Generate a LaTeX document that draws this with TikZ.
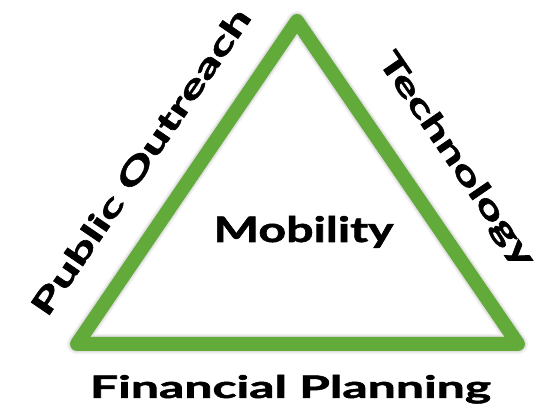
\documentclass[tikz,border=0pt]{standalone}
\usepackage{fontspec}
\setmainfont{Lato}[BoldFeatures={FakeBold=1.5}]
\definecolor{trigreen}{RGB}{98,170,57}
\begin{document}
\begin{tikzpicture}[x=1pt,y=-1pt,
  side/.style={draw=trigreen,line width=14pt,line join=round},
  shadowline/.style={draw=black,line join=round},
  lbl/.style={font=\fontsize{31}{31}\selectfont\bfseries,inner sep=0pt,anchor=base}]
\useasboundingbox (0,0) rectangle (541,419);
\fill[white] (0,0) rectangle (541,419);
\coordinate (A) at (297,21);
\coordinate (L) at (77,344);
\coordinate (R) at (518,344);
\begin{scope}[shift={(2,4)}]
  \draw[shadowline,opacity=0.05,line width=20pt] (A) -- (L) -- (R) -- cycle;
  \draw[shadowline,opacity=0.07,line width=17pt] (A) -- (L) -- (R) -- cycle;
  \draw[shadowline,opacity=0.09,line width=14pt] (A) -- (L) -- (R) -- cycle;
\end{scope}
\draw[side] (A) -- (L) -- (R) -- cycle;
\node[lbl,font=\fontsize{35}{35}\selectfont\bfseries,xscale=1.38] (mob) at (303.5,242) {Mobility};
\node[lbl,xscale=1.61] (fin) at (290.5,398) {Financial Planning};
\node[lbl,rotate=55.7,xscale=1.64] (pub) at (149.9,167.9) {Public Outreach};
\node[lbl,rotate=-55.6,xscale=1.61] (tech) at (448.5,165.0) {Technology};
\end{tikzpicture}
\end{document}
